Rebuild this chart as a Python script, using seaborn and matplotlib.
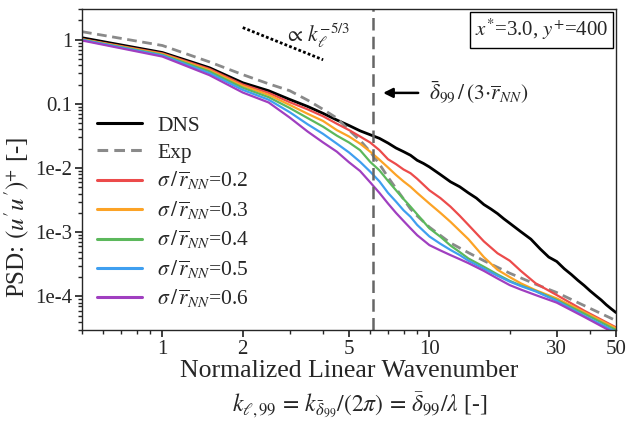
import numpy as np
import pandas as pd
import matplotlib
matplotlib.use("Agg")
import matplotlib.pyplot as plt
import seaborn as sns

# ---------------- data ----------------
k_dns = [0.5, 1, 1.5, 2, 2.5, 3, 3.5, 4, 4.5, 5, 5.5, 6, 6.5, 7, 7.5, 8, 8.5, 9, 9.5, 10,
         11, 12, 13, 14, 15, 16, 17, 18, 19, 20, 22, 24, 26, 28, 30, 32, 34, 36, 38, 40,
         42, 44, 46, 48, 50]
psd_dns = [1.07, 0.63, 0.365, 0.213, 0.16, 0.117, 0.091, 0.071, 0.056, 0.046, 0.038, 0.033,
           0.029, 0.0245, 0.0205, 0.0180, 0.0158, 0.0132, 0.0118, 0.0104, 0.0079, 0.0061,
           0.0051, 0.0041, 0.0034, 0.0027, 0.0023, 0.00195, 0.00162, 0.00138, 0.00102,
           0.00078, 0.00055, 0.00041, 0.00035, 0.00027, 0.00022, 0.000178, 0.000148,
           0.000122, 0.000103, 0.000088, 0.000074, 0.000064, 0.000056]

k_exp = [0.5, 1, 1.5, 2, 2.5, 3, 3.5, 4, 4.5, 5, 5.5, 6, 6.5, 7, 7.5, 8, 8.5, 9, 10, 12,
         14, 16, 20, 25, 30, 38, 50]
psd_exp = [1.33, 0.81, 0.45, 0.285, 0.205, 0.16, 0.114, 0.082, 0.06, 0.039, 0.027, 0.018,
           0.0115, 0.0072, 0.0048, 0.0033, 0.0023, 0.0018, 0.0012, 0.00068, 0.00048,
           0.00036, 0.00023, 0.000155, 0.000115, 0.000072, 0.000042]

k_sim = [0.5, 1, 1.5, 2, 2.5, 3, 3.5, 4, 4.5, 5, 5.5, 6, 6.5, 7, 7.5, 8, 8.5, 9, 10, 11,
         12, 13, 14, 16, 18, 20, 22, 25, 30, 38, 50]
psd_s02 = [1.02, 0.61, 0.35, 0.20, 0.148, 0.106, 0.082, 0.064, 0.049, 0.039, 0.031, 0.025,
           0.019, 0.0137, 0.0115, 0.0095, 0.0083, 0.0068, 0.0045, 0.0034, 0.0025, 0.0018,
           0.0013, 0.00072, 0.00047, 0.00036, 0.00025, 0.00016, 0.000105, 0.00006, 0.000033]
psd_s03 = [1.01, 0.595, 0.335, 0.19, 0.138, 0.096, 0.070, 0.054, 0.039, 0.031, 0.024, 0.018,
           0.0135, 0.0102, 0.0078, 0.0062, 0.0051, 0.0041, 0.0028, 0.0020, 0.00145,
           0.00105, 0.00078, 0.00041, 0.00026, 0.0002, 0.00016, 0.000125, 0.000093,
           0.000057, 0.000032]
psd_s04 = [1.0, 0.58, 0.32, 0.178, 0.127, 0.086, 0.060, 0.044, 0.032, 0.025, 0.019, 0.0125,
           0.0092, 0.0063, 0.0045, 0.0033, 0.0025, 0.0019, 0.00115, 0.00085, 0.00062,
           0.00049, 0.00039, 0.00029, 0.00022, 0.000175, 0.000148, 0.000122, 0.000088,
           0.000054, 0.00003]
psd_s05 = [0.99, 0.565, 0.30, 0.165, 0.116, 0.074, 0.048, 0.034, 0.024, 0.0175, 0.0125,
           0.0088, 0.0062, 0.0041, 0.0030, 0.0022, 0.00174, 0.0013, 0.00086, 0.00066,
           0.00053, 0.00044, 0.00036, 0.00027, 0.00021, 0.00017, 0.000145, 0.00012,
           0.000085, 0.00005, 0.000028]
psd_s06 = [0.97, 0.545, 0.28, 0.15, 0.105, 0.061, 0.037, 0.025, 0.018, 0.0123, 0.0090,
           0.0060, 0.0041, 0.0028, 0.0020, 0.0015, 0.00115, 0.0009, 0.00063, 0.00052,
           0.00044, 0.00038, 0.00033, 0.00025, 0.00019, 0.00015, 0.000128, 0.000105,
           0.00008, 0.000048, 0.000026]

sigma_labels = ["0.2", "0.3", "0.4", "0.5", "0.6"]
sigma_colors = ["#ec4b4b", "#fca326", "#5cb85c", "#3f9ff0", "#a03fc0"]

slope_k = [2.0, 4.0]
slope_c = 4.89
k_cut = 6.17

x_ticks = [1, 2, 5, 10, 30, 50]
x_ticklabels = ["1", "2", "5", "10", "30", "50"]
y_ticks = [1, 0.1, 1e-2, 1e-3, 1e-4]
y_ticklabels = ["1", "0.1", "1e-2", "1e-3", "1e-4"]

# ---------------- style ----------------
sns.set_theme(style="ticks")
plt.rcParams["font.family"] = ["Liberation Serif", "DejaVu Serif"]
plt.rcParams["mathtext.fontset"] = "stix"
plt.rcParams["axes.linewidth"] = 1.0
plt.rcParams["xtick.major.size"] = 5
plt.rcParams["ytick.major.size"] = 5
plt.rcParams["xtick.minor.size"] = 3
plt.rcParams["ytick.minor.size"] = 3
plt.rcParams["xtick.direction"] = "out"
plt.rcParams["ytick.direction"] = "out"

fig = plt.figure(figsize=(6.27, 4.23), dpi=100)
ax = fig.add_axes([82 / 627, 1 - 330 / 423, (616 - 82) / 627, (330 - 9) / 423])

sns.lineplot(x=k_dns, y=psd_dns, ax=ax, color="black", lw=2.0, label="DNS",
             estimator=None, sort=False)
sns.lineplot(x=k_exp, y=psd_exp, ax=ax, color="#8a8a8a", lw=2.0, label="Exp",
             estimator=None, sort=False, dashes=False)
ax.lines[-1].set_dashes([3.5, 2])
sim = [psd_s02, psd_s03, psd_s04, psd_s05, psd_s06]
for vals, lab, col in zip(sim, sigma_labels, sigma_colors):
    sns.lineplot(x=k_sim, y=vals, ax=ax, color=col, lw=1.6,
                 label=r"$\sigma\,/\,\overline{r}_{NN}$=" + lab, estimator=None, sort=False)

ax.set_xscale("log")
ax.set_yscale("log")
ax.set_xlim(0.5, 50)
ax.set_ylim(3e-5, 3.0)

# -5/3 slope guide
sk = np.array(slope_k)
ax.plot(sk, slope_c * sk ** (-5.0 / 3.0), color="black", lw=2.0, ls=(0, (1, 0.8)))
ax.text(2.86, 1.15, r"$\propto\, k_{\ell}^{-5/3}$", fontsize=15.5, va="center", ha="left")

# cutoff line + arrow
ax.axvline(k_cut, color="#666666", lw=1.8, ls=(0, (5, 2.5)))
ax.annotate("", xy=(6.55, 0.148), xytext=(9.3, 0.148),
            arrowprops=dict(arrowstyle="-|>", color="black", lw=1.8,
                            mutation_scale=14))
ax.text(10.0, 0.148, r"$\bar{\delta}_{99}\,/\,(3{\cdot}\overline{r}_{NN})$", fontsize=15.5,
        va="center", ha="left")

# case box
ax.text(0.985, 0.975, r"$x^{*}$=3.0, $y^{+}$=400", transform=ax.transAxes,
        ha="right", va="top", fontsize=15,
        bbox=dict(boxstyle="square,pad=0.25", fc="white", ec="black", lw=1.0))

ax.set_xticks(x_ticks)
ax.set_xticklabels(x_ticklabels)
ax.set_yticks(y_ticks)
ax.set_yticklabels(y_ticklabels)
ax.tick_params(axis="both", which="major", labelsize=15, pad=2)
ax.tick_params(top=False, right=False, which="both")

ax.set_xlabel("Normalized Linear Wavenumber", fontsize=18.5, labelpad=1)
ax.text((360 - 82) / 534, -(405 - 330) / 321,
        r"$k_{\ell,99}\,=\,k_{\bar{\delta}_{99}}/(2\pi)\,=\,\bar{\delta}_{99}/\lambda$ [-]",
        transform=ax.transAxes, ha="center", va="center", fontsize=17)
ax.set_ylabel(r"PSD: $(u'u')^{+}$ [-]", fontsize=18)
ax.yaxis.set_label_coords((32 - 82) / 534, (330 - 217) / 321)

leg = ax.legend(loc="upper left", bbox_to_anchor=(0.0, 0.715), frameon=False,
                fontsize=15.5, handlelength=2.1, handletextpad=0.7, labelspacing=0.33,
                borderaxespad=0.3)
for ln in leg.get_lines():
    ln.set_linewidth(2.2)

fig.savefig("out.png", dpi=100)
